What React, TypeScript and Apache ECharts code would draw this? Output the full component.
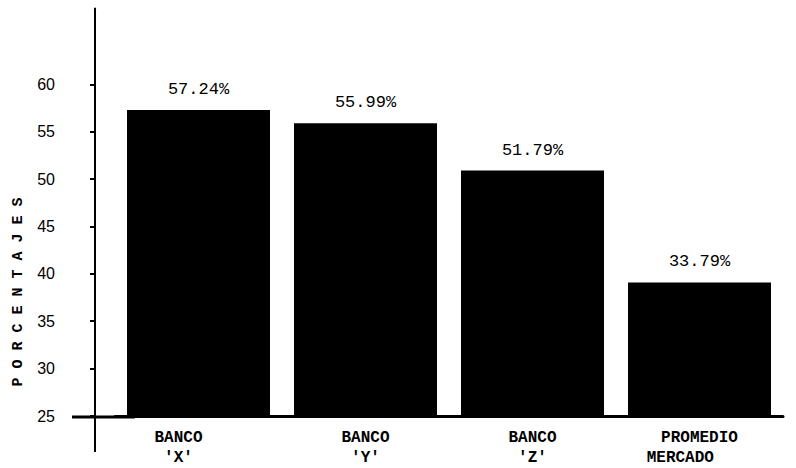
import React, { useEffect, useRef } from "react";
import * as echarts from "echarts";

const categories = ["BANCO\n'X'", "BANCO\n'Y'", "BANCO\n'Z'", "PROMEDIO\nMERCADO\u00a0\u00a0\u00a0\u00a0"];
const barValues = [57.3, 55.9, 50.9, 39.1];
const barLabels = ["57.24%", "55.99%", "51.79%", "33.79%"];
const yTicks = [25, 30, 35, 40, 45, 50, 55, 60];
const yAxisName = "P O R C E N T A J E S";

export default function App() {
  const ref = useRef<HTMLDivElement>(null);
  useEffect(() => {
    if (!ref.current) return;
    const chart = echarts.init(ref.current, null, { renderer: "svg" });
    chart.setOption({
      animation: false,
      backgroundColor: "#ffffff",
      grid: { left: 115, right: 13, top: 8.5, bottom: 51, containLabel: false },
      xAxis: {
        type: "category",
        data: categories.map((c, i) =>
          i === 0 ? { value: c, textStyle: { padding: [0, 40, 0, 0] } } : c
        ),
        axisLine: { show: true, lineStyle: { color: "#000", width: 3 } },
        axisTick: { show: false },
        axisLabel: {
          color: "#000",
          fontFamily: "Liberation Mono",
          fontWeight: "bold",
          fontSize: 16,
          lineHeight: 20,
          margin: 12,
          interval: 0,
        },
      },
      yAxis: {
        type: "value",
        min: 25,
        max: 68,
        interval: 5,
        offset: 20,
        axisLine: { show: true, lineStyle: { color: "#000", width: 2 } },
        axisTick: {
          show: true,
          length: 5,
          customValues: yTicks,
          lineStyle: { color: "#000", width: 2 },
        },
        axisLabel: {
          color: "#000",
          fontFamily: "Liberation Sans",
          fontSize: 16,
          margin: 40,
          customValues: yTicks,
        },
        splitLine: { show: false },
      },
      series: [
        {
          type: "bar",
          data: barValues,
          barWidth: 143,
          itemStyle: { color: "#000" },
          label: {
            show: true,
            position: "top",
            distance: 12,
            color: "#000",
            fontFamily: "Liberation Mono",
            fontSize: 17,
            formatter: (p: any) => barLabels[p.dataIndex],
          },
        },
      ],
      graphic: [
        {
          type: "line",
          shape: { x1: 72, y1: 417, x2: 135, y2: 417 },
          style: { stroke: "#000", lineWidth: 3 },
          z: 100,
        },
        {
          type: "line",
          shape: { x1: 95, y1: 417, x2: 95, y2: 452 },
          style: { stroke: "#000", lineWidth: 2 },
          z: 100,
        },
        {
          type: "text",
          x: 18,
          y: 292,
          rotation: Math.PI / 2,
          style: {
            text: yAxisName,
            fill: "#000",
            font: "bold 15px 'Liberation Mono'",
            textAlign: "center",
            textVerticalAlign: "middle",
          },
        },
      ],
    });
    return () => chart.dispose();
  }, []);
  return (
    <div
      ref={ref}
      style={{ position: "fixed", left: 0, top: 0, width: 796, height: 468 }}
    />
  );
}
